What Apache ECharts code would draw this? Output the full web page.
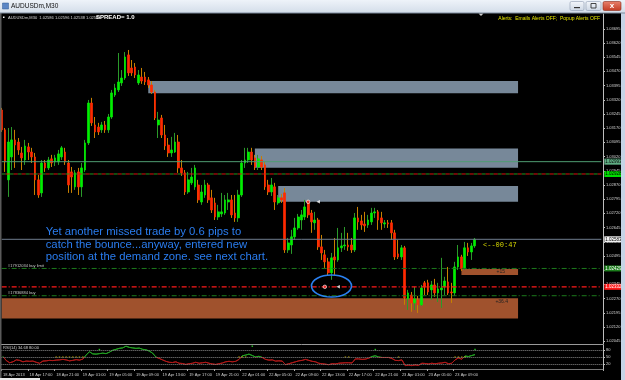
<!DOCTYPE html>
<html><head><meta charset="utf-8">
<script src="https://cdn.jsdelivr.net/npm/echarts@6/dist/echarts.min.js"></script>
<style>html,body{margin:0;padding:0;background:#000;overflow:hidden}#c{width:625px;height:380px}</style>
</head><body><div id="c"></div>
<script>
// ---------- DATA ----------
const timeLabels = ['18 Apr 2013','18 Apr 17:00','18 Apr 21:00','19 Apr 01:00','19 Apr 05:00','19 Apr 09:00','19 Apr 13:00','19 Apr 17:00','19 Apr 21:00','22 Apr 01:00','22 Apr 05:00','22 Apr 09:00','22 Apr 13:00','22 Apr 17:00','22 Apr 21:00','23 Apr 01:00','23 Apr 05:00','23 Apr 09:00'];
const priceTicks = [1.02045,1.02120,1.02195,1.02270,1.02345,1.02420,1.02495,1.02570,1.02645,1.02720,1.02795,1.02870,1.02945,1.03020,1.03095,1.03170,1.03245,1.03320,1.03395,1.03470,1.03545,1.03620,1.03695];

const opens = [1.03266,1.03161,1.02897,1.03018,1.03108,1.03097,1.03039,1.03002,1.03071,1.03044,1.03018,1.02897,1.02828,1.02986,1.02960,1.03008,1.02992,1.02992,1.03018,1.03044,1.02986,1.02939,1.02860,1.02939,1.02860,1.02949,1.03092,1.03303,1.03187,1.03176,1.03161,1.03187,1.03161,1.03229,1.03345,1.03372,1.03409,1.03435,1.03557,1.03488,1.03493,1.03409,1.03440,1.03440,1.03425,1.03398,1.03361,1.03187,1.03224,1.03134,1.03081,1.03039,1.03044,1.03097,1.02960,1.02934,1.02833,1.02881,1.02860,1.02870,1.02780,1.02817,1.02870,1.02802,1.02775,1.02701,1.02717,1.02722,1.02780,1.02791,1.02722,1.02696,1.02817,1.02986,1.03002,1.03044,1.03013,1.02965,1.03002,1.02976,1.02870,1.02833,1.02860,1.02775,1.02802,1.02828,1.02527,1.02553,1.02596,1.02643,1.02685,1.02701,1.02775,1.02722,1.02670,1.02685,1.02543,1.02501,1.02464,1.02406,1.02490,1.02474,1.02538,1.02548,1.02553,1.02553,1.02527,1.02696,1.02680,1.02664,1.02659,1.02675,1.02722,1.02728,1.02696,1.02664,1.02670,1.02670,1.02617,1.02506,1.02490,1.02538,1.02268,1.02289,1.02247,1.02263,1.02237,1.02353,1.02353,1.02316,1.02342,1.02300,1.02316,1.02332,1.02358,1.02305,1.02300,1.02437,1.02490,1.02432,1.02538,1.02516,1.02548];
const closes = [1.03161,1.02992,1.03097,1.03108,1.03081,1.03055,1.03013,1.03076,1.03044,1.03018,1.02897,1.02817,1.02986,1.02960,1.03002,1.02986,1.03013,1.03034,1.03066,1.02992,1.02870,1.02912,1.02934,1.02860,1.02960,1.03092,1.03303,1.03198,1.03150,1.03150,1.03187,1.03161,1.03229,1.03356,1.03382,1.03414,1.03435,1.03546,1.03462,1.03462,1.03451,1.03451,1.03419,1.03414,1.03398,1.03361,1.03224,1.03213,1.03134,1.03076,1.03039,1.03055,1.03097,1.02960,1.02934,1.02833,1.02897,1.02912,1.02960,1.02791,1.02833,1.02870,1.02791,1.02738,1.02701,1.02728,1.02728,1.02791,1.02791,1.02712,1.02696,1.02817,1.02986,1.03002,1.03044,1.03002,1.02965,1.03008,1.02965,1.02860,1.02833,1.02870,1.02780,1.02802,1.02791,1.02527,1.02564,1.02596,1.02643,1.02701,1.02712,1.02754,1.02712,1.02675,1.02685,1.02543,1.02511,1.02464,1.02406,1.02485,1.02474,1.02538,1.02548,1.02553,1.02543,1.02527,1.02696,1.02675,1.02659,1.02654,1.02685,1.02722,1.02728,1.02685,1.02670,1.02670,1.02664,1.02617,1.02490,1.02490,1.02538,1.02274,1.02300,1.02247,1.02268,1.02237,1.02326,1.02332,1.02305,1.02342,1.02300,1.02321,1.02326,1.02363,1.02300,1.02300,1.02437,1.02490,1.02427,1.02538,1.02516,1.02548,1.02583];
const lows = [1.03150,1.02939,1.02807,1.02949,1.02960,1.03029,1.02949,1.02976,1.03002,1.02986,1.02817,1.02802,1.02807,1.02939,1.02949,1.02965,1.02970,1.02976,1.03002,1.02976,1.02828,1.02828,1.02844,1.02817,1.02807,1.02939,1.03081,1.03182,1.03118,1.03134,1.03145,1.03145,1.03145,1.03219,1.03335,1.03361,1.03393,1.03425,1.03446,1.03446,1.03435,1.03398,1.03404,1.03398,1.03382,1.03351,1.03213,1.03118,1.03118,1.03055,1.03018,1.03018,1.03039,1.02934,1.02918,1.02817,1.02823,1.02870,1.02844,1.02775,1.02765,1.02802,1.02775,1.02722,1.02685,1.02685,1.02701,1.02712,1.02738,1.02696,1.02675,1.02675,1.02807,1.02960,1.02986,1.02976,1.02949,1.02949,1.02949,1.02844,1.02817,1.02812,1.02738,1.02765,1.02775,1.02511,1.02511,1.02506,1.02580,1.02633,1.02633,1.02685,1.02696,1.02617,1.02633,1.02527,1.02474,1.02432,1.02390,1.02369,1.02395,1.02464,1.02516,1.02527,1.02522,1.02511,1.02516,1.02633,1.02633,1.02622,1.02643,1.02659,1.02696,1.02633,1.02633,1.02643,1.02643,1.02580,1.02474,1.02479,1.02474,1.02237,1.02210,1.02200,1.02210,1.02194,1.02231,1.02289,1.02289,1.02263,1.02279,1.02252,1.02221,1.02289,1.02289,1.02247,1.02284,1.02421,1.02416,1.02421,1.02495,1.02474,1.02538];
const highs = [1.03277,1.03171,1.03171,1.03176,1.03161,1.03118,1.03071,1.03108,1.03092,1.03066,1.03039,1.02923,1.03002,1.03002,1.03018,1.03029,1.03029,1.03055,1.03076,1.03066,1.03002,1.02965,1.02949,1.02960,1.02986,1.03108,1.03319,1.03330,1.03229,1.03198,1.03203,1.03208,1.03245,1.03372,1.03404,1.03567,1.03477,1.03572,1.03583,1.03530,1.03514,1.03477,1.03488,1.03467,1.03440,1.03419,1.03372,1.03256,1.03240,1.03187,1.03118,1.03124,1.03145,1.03134,1.03002,1.02949,1.02939,1.02960,1.02976,1.02897,1.02870,1.02897,1.02881,1.02844,1.02802,1.02765,1.02828,1.02817,1.02828,1.02817,1.02817,1.02844,1.03002,1.03066,1.03066,1.03066,1.03029,1.03029,1.03023,1.02992,1.02897,1.02907,1.02881,1.02817,1.02823,1.02854,1.02590,1.02633,1.02696,1.02717,1.02738,1.02791,1.02791,1.02738,1.02728,1.02696,1.02606,1.02527,1.02485,1.02511,1.02590,1.02643,1.02617,1.02648,1.02617,1.02590,1.02722,1.02754,1.02712,1.02728,1.02712,1.02749,1.02749,1.02738,1.02728,1.02685,1.02685,1.02685,1.02633,1.02580,1.02553,1.02548,1.02316,1.02305,1.02332,1.02284,1.02342,1.02363,1.02369,1.02363,1.02374,1.02353,1.02485,1.02385,1.02437,1.02353,1.02464,1.02553,1.02501,1.02569,1.02564,1.02564,1.02590];

const rsiValues = [52,35,26,30,38,36,30,33,32,33,28,24,33,34,36,35,37,38,40,38,34,36,39,37,41,58,72,63,62,64,66,64,70,78,82,86,88,95,90,88,86,87,82,80,75,66,50,44,38,32,28,27,30,24,23,19,22,24,28,24,26,28,24,21,19,22,25,30,32,30,32,40,55,58,62,56,50,53,48,40,37,38,33,34,33,18,22,26,30,34,36,40,36,32,30,24,22,20,18,22,21,24,25,26,26,25,42,42,40,41,45,52,55,50,48,48,48,44,36,35,38,14,16,14,17,15,24,23,21,24,22,24,25,28,22,24,38,46,41,54,52,56,60];
const rsiLevels = [20,50,80];
const yellowDotIdx = [16,17,18,19,20,21,22,23,24,71,72,73,103,104,119,136,137,138,139];
const greenDotIdx = [29,75,112,142];
const greenDotVal = [81,95,81,81];

// horizontal levels
const lineLevels = [1.02993,1.02928,1.02583,1.02429,1.02332,1.02285];
const lineTags   = ['1.02993','1.02928','1.02583','1.02429','1.02332',''];
const orderTexts = ['','','','#17912034 buy limit','','#17836884 buy'];
// zones (supply / demand)
const zoneStart  = [44,76,83,0,138];
const zoneEnd    = [155,155,155,155,155];
const zoneTop    = [1.03419,1.03063,1.02864,1.02271,1.02426];
const zoneBottom = [1.03355,1.02961,1.02781,1.02165,1.02394];
const zoneLabels = ['','','','+36.4','+15'];
// trade marks
const entryIdx = [92,97];   const entryPrice = [1.02781,1.02332];
const exitIdx  = [95,101];  const exitPrice  = [1.02781,1.02332];
const circledPoint = [99,1.02336];

// ---------- CHART ----------
const N = 181;
const slots = Array.from({length:N},(_,i)=>i);
const candleFull = opens.map((o,i)=>[o,closes[i],lows[i],highs[i]]);
const candleBody = opens.map((o,i)=>[o,closes[i],Math.min(o,closes[i]),Math.max(o,closes[i])]);
const anchorPts = closes.map((c,i)=>[i,c]);

const zoneColors = ['#778899','#778899','#778899','#a0522d','#a0522d'];
const zoneData = zoneStart.map((s,k)=>[
  {xAxis:s,yAxis:zoneTop[k],itemStyle:{color:zoneColors[k],opacity:1},
   label:{show:!!zoneLabels[k],formatter:zoneLabels[k],position:k===4?'insideRight':'insideTopRight',distance:1,offset:[k===4?-12:-9,0],color:'#222',fontSize:5,fontFamily:'Liberation Sans'}},
  {xAxis:zoneEnd[k],yAxis:zoneBottom[k]}
]);

const lineStyles = [
  {color:'#4f9d72',type:'solid',width:1},
  {color:'#1f9a1f',type:[4,4],width:1},
  {color:'#6f7d8f',type:'solid',width:1},
  {color:'#1c7a1c',type:[5,2,1,2],width:1},
  {color:'#ff1a1a',type:[5,2,1,2],width:1.2},
  {color:'#1c7a1c',type:[5,2,1,2],width:1}
];
const tagBg = ['#5fae84','#00dd00','#f2f2f2','#1b7d1b','#ff1a1a','transparent'];
const tagFg = ['#000','#000','#000','#fff','#fff','#000'];

const levelSeries = lineLevels.map((p,k)=>({
  name:'level'+k,type:'line',xAxisIndex:0,yAxisIndex:0,z:5,silent:true,symbol:'none',
  data:[[0,p],[N-1,p]],lineStyle:lineStyles[k],
  endLabel:{show:!!lineTags[k],formatter:lineTags[k],distance:3,backgroundColor:tagBg[k],color:tagFg[k],fontSize:4.5,fontFamily:'Liberation Sans',padding:[1,1,0,1]}
}));
levelSeries.push({name:'levelOverlay',type:'line',xAxisIndex:0,yAxisIndex:0,z:5,silent:true,symbol:'none',
  data:[[0,lineLevels[1]],[N-1,lineLevels[1]]],lineStyle:{color:'#e01010',type:[4,4],dashOffset:4,width:1}});

// RSI colour: green above 50, red below (global gradient over the indicator grid)
const RSI_TOP = 345, RSI_H = 24;
const rsiColor = new echarts.graphic.LinearGradient(0,RSI_TOP,0,RSI_TOP+RSI_H,[
  {offset:0,color:'#22a022'},{offset:0.5,color:'#22a022'},{offset:0.5,color:'#b01818'},{offset:1,color:'#b01818'}],true);

const option = {
  backgroundColor:'#000',
  animation:false,
  grid:[{left:0,top:14,width:603,height:330},{left:0,top:RSI_TOP,width:603,height:RSI_H}],
  xAxis:[
    {type:'category',gridIndex:0,data:slots,boundaryGap:true,axisLine:{show:true,lineStyle:{color:'#9a9a9a'}},axisTick:{show:false},axisLabel:{show:false},splitLine:{show:false}},
    {type:'category',gridIndex:1,data:slots,boundaryGap:true,axisLine:{show:true,lineStyle:{color:'#777'}},
     axisTick:{show:true,interval:(i)=>i%8===0&&i/8<timeLabels.length,length:2,lineStyle:{color:'#aaa'}},
     axisLabel:{show:true,interval:(i)=>i%8===0&&i/8<timeLabels.length,formatter:(v,i)=>timeLabels[i/8]||'',align:'left',color:'#cfcfcf',fontSize:4,fontFamily:'Liberation Sans',margin:4},
     splitLine:{show:false}}
  ],
  yAxis:[
    {type:'value',gridIndex:0,position:'right',min:1.02030,max:1.03773,
     axisLine:{show:true,lineStyle:{color:'#bdbdbd'}},
     axisTick:{show:true,customValues:priceTicks,length:2,lineStyle:{color:'#bdbdbd'}},
     axisLabel:{show:true,customValues:priceTicks,formatter:(v)=>Number(v).toFixed(5),color:'#d6d6d6',fontSize:4,fontFamily:'Liberation Sans',margin:3},
     splitLine:{show:false}},
    {type:'value',gridIndex:1,position:'right',min:0,max:100,
     axisLine:{show:true,lineStyle:{color:'#bdbdbd'}},
     axisTick:{show:true,customValues:rsiLevels,length:2},
     axisLabel:{show:true,customValues:rsiLevels,color:'#d6d6d6',fontSize:4,fontFamily:'Liberation Sans',margin:3},
     splitLine:{show:false}}
  ],
  series:[
    {name:'zones',type:'scatter',xAxisIndex:0,yAxisIndex:0,data:anchorPts,symbolSize:0,z:1,silent:true,markArea:{silent:true,data:zoneData}},
    {name:'wicks',type:'candlestick',xAxisIndex:0,yAxisIndex:0,data:candleFull,barWidth:1,z:3,
     itemStyle:{color:'#2a9a2a',color0:'#c88000',borderColor:'#2a9a2a',borderColor0:'#c88000',borderWidth:1}},
    {name:'bodies',type:'candlestick',xAxisIndex:0,yAxisIndex:0,data:candleBody,barWidth:2.2,z:4,
     itemStyle:{color:'#00ee00',color0:'#ff2a00',borderColor:'#00ee00',borderColor0:'#ff2a00',borderWidth:0.7}},
    {name:'entries',type:'scatter',xAxisIndex:0,yAxisIndex:0,z:6,symbol:'circle',symbolSize:3.5,
     data:entryIdx.map((x,k)=>[x,entryPrice[k]]),itemStyle:{color:'#ff3030',borderColor:'#fff',borderWidth:0.8}},
    {name:'exits',type:'scatter',xAxisIndex:0,yAxisIndex:0,z:6,symbol:'triangle',symbolRotate:90,symbolSize:3.5,
     data:exitIdx.map((x,k)=>[x,exitPrice[k]]),itemStyle:{color:'#ffffff'}},
    {name:'RSI',type:'line',xAxisIndex:1,yAxisIndex:1,data:rsiValues,symbol:'none',lineStyle:{width:1,color:rsiColor},z:3,
     markLine:{silent:true,symbol:['none','none'],label:{show:false},lineStyle:{color:'#8a8a8a',type:'dotted',width:1},data:rsiLevels.map(v=>({yAxis:v}))}},
    {name:'sigY',type:'scatter',xAxisIndex:1,yAxisIndex:1,symbol:'rect',symbolSize:[1.5,1],z:4,
     data:yellowDotIdx.map(i=>[i,50]),itemStyle:{color:'#e8d000'}},
    {name:'sigG',type:'scatter',xAxisIndex:1,yAxisIndex:1,symbol:'rect',symbolSize:[1.5,1.5],z:4,
     data:greenDotIdx.map((i,k)=>[i,greenDotVal[k]]),itemStyle:{color:'#30e030'}}
  ].concat(levelSeries)
};

const chart = echarts.init(document.getElementById('c'),null,{renderer:'canvas'});
chart.setOption(option);

const LG = (a,b)=>new echarts.graphic.LinearGradient(0,0,0,1,[{offset:0,color:a},{offset:1,color:b}]);
const px = (pt)=>chart.convertToPixel({xAxisIndex:0,yAxisIndex:0},pt);
const ep = px(circledPoint) || [332,286];
const orderGfx = [];
lineLevels.forEach((p,k)=>{
  if(!orderTexts[k]) return;
  const q = px([0,p]);
  orderGfx.push({type:'text',style:{text:orderTexts[k],x:8,y:q[1]-1,fontSize:4,fontFamily:'Liberation Sans',fill:'#c8c8c8',textVerticalAlign:'bottom'},z:90});
});
const gfx = [
  {type:'rect',shape:{x:0,y:0,width:625,height:13},style:{fill:LG('#eef3f9','#d3dde9')},z:100},
  {type:'rect',shape:{x:0,y:12.5,width:625,height:1},style:{fill:'#7d8a9c'},z:101},
  {type:'rect',shape:{x:2.5,y:3,width:6,height:6},style:{fill:'#5b86c5',stroke:'#2f5b95',lineWidth:0.5},z:101},
  {type:'text',style:{text:'AUDUSDm,M30',x:11,y:6.5,fontSize:6.5,fontFamily:'Liberation Sans',fill:'#111',textVerticalAlign:'middle'},z:101},
  {type:'rect',shape:{x:570,y:1.5,width:14,height:9,r:1.5},style:{fill:LG('#f4f7fb','#cdd7e4'),stroke:'#8d9bb0',lineWidth:0.6},z:101},
  {type:'rect',shape:{x:574,y:7,width:6,height:1.2},style:{fill:'#333'},z:102},
  {type:'rect',shape:{x:586,y:1.5,width:15,height:9,r:1.5},style:{fill:LG('#f4f7fb','#cdd7e4'),stroke:'#8d9bb0',lineWidth:0.6},z:101},
  {type:'rect',shape:{x:591,y:3.5,width:5,height:4.5},style:{fill:'none',stroke:'#333',lineWidth:0.9},z:102},
  {type:'rect',shape:{x:603,y:1.5,width:18,height:9,r:1.5},style:{fill:LG('#e8826e','#c23a22'),stroke:'#8a2a1a',lineWidth:0.6},z:101},
  {type:'text',style:{text:'x',x:612,y:5.6,fontSize:8,fontWeight:'bold',fontFamily:'Liberation Sans',fill:'#fff',textAlign:'center',textVerticalAlign:'middle'},z:102},
  {type:'rect',shape:{x:0,y:13,width:1.5,height:367},style:{fill:'#5a5a5a'},z:100},
  {type:'rect',shape:{x:621,y:13,width:4,height:367},style:{fill:'#c6d4e6'},z:100},
  {type:'rect',shape:{x:0,y:378,width:40,height:2},style:{fill:'#e8e8e8'},z:100},
  {type:'rect',shape:{x:3,y:16.5,width:1.5,height:1.5},style:{fill:'#fff'},z:90},
  {type:'text',style:{text:'AUDUSDm,M30  1.02586 1.02596 1.02538 1.02583',x:8,y:17.6,fontSize:4,fontFamily:'Liberation Sans',fill:'#d8d8d8',textVerticalAlign:'middle'},z:90},
  {type:'text',style:{text:'SPREAD= 1.0',x:96,y:17.6,fontSize:6,fontWeight:'bold',fontFamily:'Liberation Sans',fill:'#ffffff',textVerticalAlign:'middle'},z:90},
  {type:'text',style:{text:'Alerts:  Emails Alerts OFF;  Popup Alerts OFF',x:600,y:19,fontSize:5,fontFamily:'Liberation Sans',fill:'#e6e600',textAlign:'right',textVerticalAlign:'middle'},z:90},
  {type:'polygon',shape:{points:[[478.5,13.5],[483.5,13.5],[481,16]]},style:{fill:'#cfcfcf'},z:90},
  {type:'text',style:{text:'<--00:47',x:483,y:245.5,fontSize:7,fontFamily:'Liberation Mono',fill:'#d8d800',textVerticalAlign:'middle'},z:90},
  {type:'text',style:{text:'RSI(14) 34.68 80.00',x:3,y:347.5,fontSize:4,fontFamily:'Liberation Sans',fill:'#d0d0d0',textVerticalAlign:'middle'},z:90},
  {type:'text',style:{text:'Yet another missed trade by 0.6 pips to\ncatch the bounce...anyway, entered new\nposition at the demand zone. see next chart.',x:45.7,y:225.5,fontSize:11.3,lineHeight:12.7,fontFamily:'Liberation Sans',fill:'#2a7df0',textVerticalAlign:'top'},z:90},
  {type:'ellipse',shape:{cx:ep[0],cy:ep[1],rx:20,ry:11},style:{fill:'none',stroke:'#2a80f0',lineWidth:1.6},z:90}
].concat(orderGfx);
chart.setOption({graphic:gfx});
</script>
</body></html>
